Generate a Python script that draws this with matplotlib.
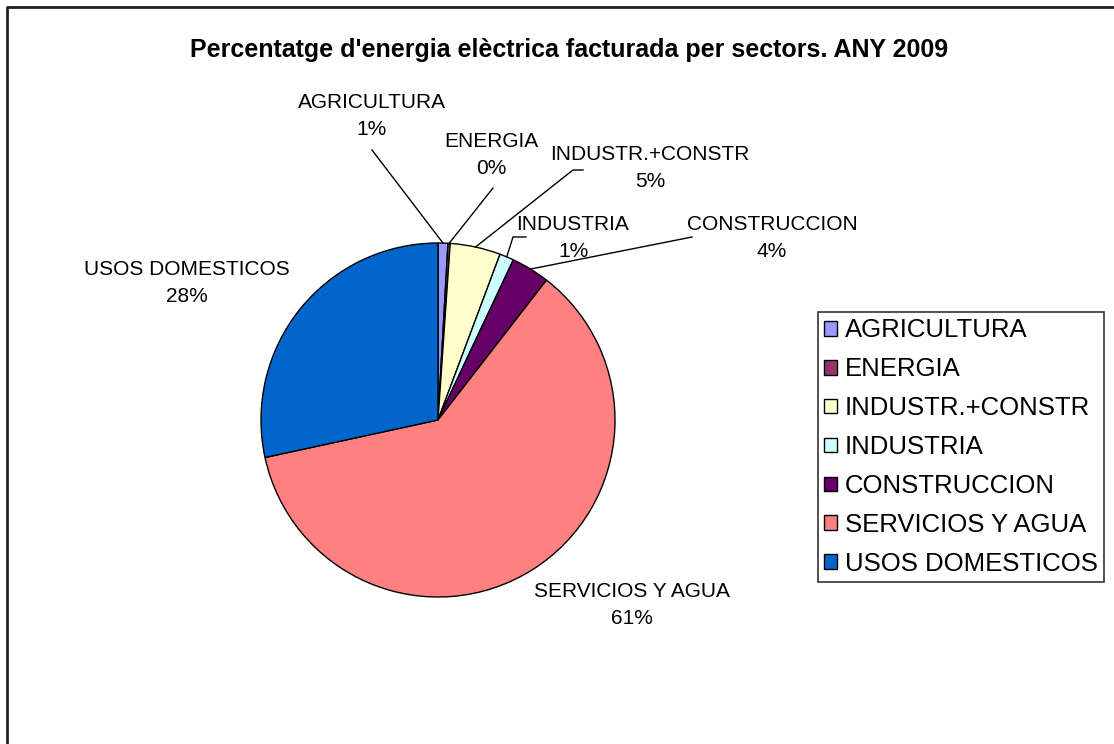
import numpy as np
import matplotlib
matplotlib.use('Agg')
import matplotlib.pyplot as plt
from matplotlib.lines import Line2D

plt.rcParams['font.family'] = ['Liberation Sans', 'DejaVu Sans']

# data
sectors = ['AGRICULTURA', 'ENERGIA', 'INDUSTR.+CONSTR', 'INDUSTRIA',
           'CONSTRUCCION', 'SERVICIOS Y AGUA', 'USOS DOMESTICOS']
values = [0.9, 0.2, 4.6, 1.3, 3.5, 61.1, 28.4]
pct_labels = ['1%', '0%', '5%', '1%', '4%', '61%', '28%']
colors = ['#9999FF', '#993366', '#FFFFCC', '#CCFFFF', '#660066', '#FF8080', '#0066CC']

W, H = 1114, 744
CX, CY, R = 438, 420, 177

# label layout in pixels: text centre, leader polyline start (None = no leader)
label_pos = [(372, 116), (491, 155), (650, 168), (573, 238), (772, 238), (632, 605), (187, 283)]
leaders = [[(372, 150)], [(493, 188)], [(583, 170), (573, 170)], [(526, 237), (513, 237)],
           [(692, 237)], None, None]

fig = plt.figure(figsize=(W / 100, H / 100), dpi=100)

ax = fig.add_axes([(CX - R) / W, (H - CY - R) / H, 2 * R / W, 2 * R / H])
wedges, _ = ax.pie(values, colors=colors, startangle=90, counterclock=False, radius=1,
                   wedgeprops=dict(edgecolor='black', linewidth=1.0))
ax.set_xlim(-1, 1)
ax.set_ylim(-1, 1)
ax.set_aspect('equal')
ax.axis('off')

ov = fig.add_axes([0, 0, 1, 1], facecolor='none')
ov.set_xlim(0, W)
ov.set_ylim(H, 0)
ov.axis('off')

# frame
ov.add_line(Line2D([7, 7, W + 5], [H + 5, 7, 7], color='#222222', lw=2))

ov.text(569, 50, "Percentatge d'energia elèctrica facturada per sectors. ANY 2009",
        ha='center', va='center', fontsize=18, fontweight='bold')

for w, name, pct, pos, lead in zip(wedges, sectors, pct_labels, label_pos, leaders):
    ov.text(pos[0], pos[1], f'{name}\n{pct}', ha='center', va='center',
            fontsize=15, linespacing=1.5)
    if lead is not None:
        mid = np.deg2rad((w.theta1 + w.theta2) / 2)
        ex, ey = CX + R * np.cos(mid), CY - R * np.sin(mid)
        xs = [p[0] for p in lead] + [ex]
        ys = [p[1] for p in lead] + [ey]
        ov.add_line(Line2D(xs, ys, color='black', lw=1))

leg = fig.legend(wedges, sectors, loc='upper left',
                 bbox_to_anchor=(818 / W, 1 - 312 / H), borderaxespad=0,
                 fontsize=18.5, frameon=True, fancybox=False, shadow=False,
                 handlelength=0.5, handleheight=0.5, handletextpad=0.3,
                 labelspacing=0.58, borderpad=0.25)
leg.get_frame().set_edgecolor('black')
leg.get_frame().set_linewidth(1.2)

fig.savefig('out.png', dpi=100)
